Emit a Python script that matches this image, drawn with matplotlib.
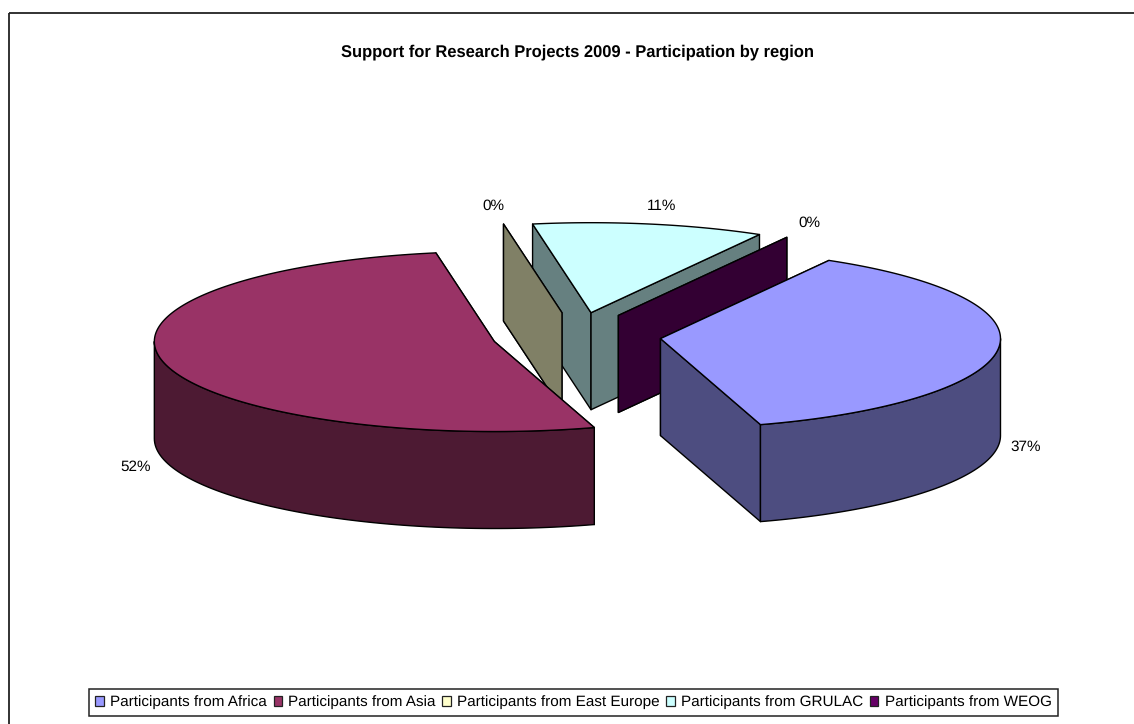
import numpy as np
import matplotlib
matplotlib.use("Agg")
import matplotlib.pyplot as plt
from matplotlib.patches import Patch, Polygon, Rectangle

plt.rcParams["font.family"] = ["Liberation Sans", "DejaVu Sans"]
plt.rcParams["text.hinting"] = "no_hinting"

# data
regions = ["Africa", "Asia", "East Europe", "GRULAC", "WEOG"]
shares = [37, 52, 0, 11, 0]
title = "Support for Research Projects 2009 - Participation by region"

# colours per slice
top_colors = ["#9999FF", "#993366", "#FFFFCC", "#CCFFFF", "#660066"]
side_colors = ["#4D4D80", "#4D1A33", "#808066", "#668080", "#330033"]

# pie geometry in pixels of the figure
cx, cy = 576.5, 336
rx, ry = 340, 90
depth = 97
explode = 84.5
explode_squash = 0.28
first_angle = 29.7
label_offsets = [(27, 2), (-28, 7), (-10, -18), (12, -18), (23, -14)]

W, H = 1134, 724
fig = plt.figure(figsize=(W / 100, H / 100), dpi=100)
ax = fig.add_axes([0, 0, 1, 1])
ax.set_xlim(0, W)
ax.set_ylim(H, 0)
ax.axis("off")


def point(x0, y0, deg):
    # angles run clockwise from the top, like the spreadsheet pie
    a = np.radians(deg)
    return x0 + rx * np.sin(a), y0 - ry * np.cos(a)


def poly(pts, color, z):
    ax.add_patch(Polygon(pts, closed=True, facecolor=color, edgecolor="black",
                         linewidth=1.0, joinstyle="round", zorder=z))


# slice angles from the shares
starts = first_angle + np.cumsum([0] + shares[:-1]) * 3.6
ends = starts + np.array(shares) * 3.6
mids = (starts + ends) / 2

# back slices first
draw_order = [3, 4, 2, 1, 0]
z = 2
for i in draw_order:
    x0 = cx + explode * np.sin(np.radians(mids[i]))
    y0 = cy - explode * explode_squash * np.cos(np.radians(mids[i]))

    # cut faces
    for ang in (starts[i], ends[i]):
        ex, ey = point(x0, y0, ang)
        poly([(x0, y0), (ex, ey), (ex, ey + depth), (x0, y0 + depth)], side_colors[i], z)
        z += 1

    # outer wall, only the front half of the rim shows
    lo, hi = max(starts[i], 90), min(ends[i], 270)
    if hi > lo:
        t = np.linspace(lo, hi, 80)
        xs, ys = point(x0, y0, t)
        wall = list(zip(xs, ys)) + list(zip(xs[::-1], ys[::-1] + depth))
        poly(wall, side_colors[i], z)
        z += 1

    # top face
    if shares[i] > 0:
        t = np.linspace(starts[i], ends[i], 160)
        xs, ys = point(x0, y0, t)
        poly([(x0, y0)] + list(zip(xs, ys)), top_colors[i], z)
        z += 1

    # percent label outside the rim
    lx, ly = point(x0, y0, mids[i])
    if 90 < mids[i] % 360 < 270:
        ly += depth
    ax.text(lx + label_offsets[i][0], ly + label_offsets[i][1], f"{shares[i]}%",
            fontsize=11, color="black", ha="center", va="center", zorder=50)

# chart frame runs off the right and bottom of the picture
ax.add_patch(Rectangle((8.5, 12.5), 1200, 800, facecolor="none", edgecolor="#222222",
                       linewidth=1.3, zorder=1))

ax.text(577, 52, title, fontsize=11.9, fontweight="bold", ha="center", va="center")

handles = [Patch(facecolor=c, edgecolor="#222222", linewidth=0.9) for c in top_colors]
labels = [f"Participants from {r}" for r in regions]
leg = ax.legend(handles, labels, ncol=5, loc="center", bbox_to_anchor=(573.5 / W, 1 - 702.5 / H),
                fontsize=11, frameon=True, fancybox=False, edgecolor="#222222",
                framealpha=1, handlelength=0.55, handleheight=0.55, handletextpad=0.4,
                columnspacing=0.45, borderpad=0.4, borderaxespad=0)
leg.get_frame().set_linewidth(1.1)

fig.savefig("out.png", dpi=100, facecolor="white")
